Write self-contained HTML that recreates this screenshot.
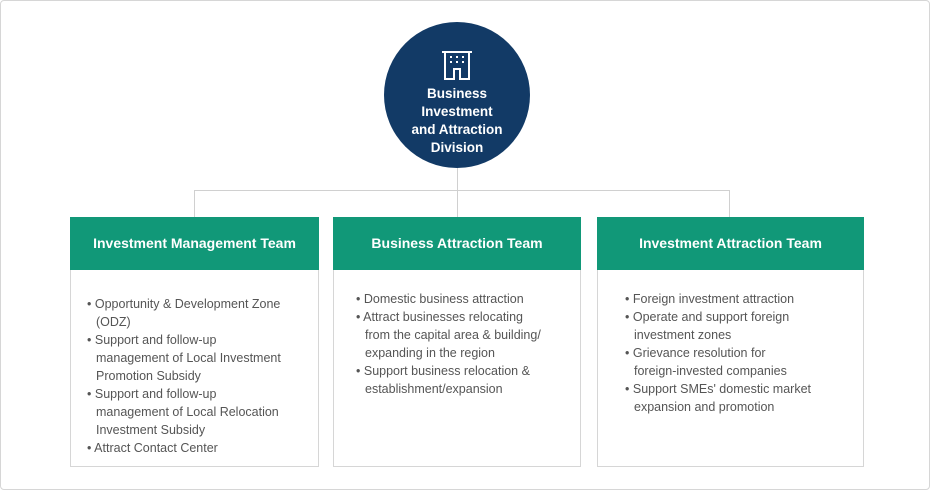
<!DOCTYPE html>
<html><head><style>
body{margin:0;width:930px;height:490px;background:#fff;font-family:"Liberation Sans",sans-serif;position:relative;overflow:hidden}
.frame{position:absolute;left:0;top:0;width:928px;height:488px;border:1px solid #d6d6d6;border-radius:4px}
.l{position:absolute;background:#d0d0d0}
.circle{position:absolute;left:384px;top:22px;width:146px;height:146px;border-radius:50%;background:#123a66;color:#fff;text-align:center}
.circle .t{position:absolute;left:0;right:0;top:63px;font-weight:bold;font-size:13.5px;line-height:18px}
.box{position:absolute;top:217px;height:250px;border:1px solid #d6d6d6;border-top:none;box-sizing:border-box}
.hd{background:#119878;color:#fff;font-weight:bold;font-size:14px;height:53px;line-height:53px;text-align:center;margin:0 -1px}
ul{list-style:none;margin:0;padding:0;position:absolute;font-size:12.5px;line-height:18px;color:#555}
li{padding-left:9px;text-indent:-9px}
li:before{content:"• "}
li span{display:block;text-indent:0}
</style></head><body>
<div class="frame"></div>
<div class="l" style="left:457px;top:160px;width:1px;height:57px"></div>
<div class="l" style="left:194px;top:190px;width:536px;height:1px"></div>
<div class="l" style="left:194px;top:190px;width:1px;height:27px"></div>
<div class="l" style="left:729px;top:190px;width:1px;height:27px"></div>
<div class="circle">
<svg style="position:absolute;left:57px;top:28px" width="32" height="30" viewBox="0 0 32 30" fill="none" stroke="#fff" stroke-width="2"><path d="M1 2H31M4 2V29H13V19H19V29H28V2"/><g fill="#fff" stroke="none"><rect x="9" y="6" width="2" height="2"/><rect x="15" y="6" width="2" height="2"/><rect x="21" y="6" width="2" height="2"/><rect x="9" y="11" width="2" height="2"/><rect x="15" y="11" width="2" height="2"/><rect x="21" y="11" width="2" height="2"/></g></svg>
<div class="t">Business<br>Investment<br>and Attraction<br>Division</div></div>
<div class="box" style="left:70px;width:249px"><div class="hd">Investment Management Team</div>
<ul style="left:16px;top:78px;width:230px">
<li>Opportunity &amp; Development Zone<span>(ODZ)</span></li>
<li>Support and follow-up<span>management of Local Investment</span><span>Promotion Subsidy</span></li>
<li>Support and follow-up<span>management of Local Relocation</span><span>Investment Subsidy</span></li>
<li>Attract Contact Center</li></ul></div>
<div class="box" style="left:333px;width:248px"><div class="hd">Business Attraction Team</div>
<ul style="left:22px;top:73px;width:225px">
<li>Domestic business attraction</li>
<li>Attract businesses relocating<span>from the capital area &amp; building/</span><span>expanding in the region</span></li>
<li>Support business relocation &amp;<span>establishment/expansion</span></li></ul></div>
<div class="box" style="left:597px;width:267px"><div class="hd">Investment Attraction Team</div>
<ul style="left:27px;top:73px;width:240px">
<li>Foreign investment attraction</li>
<li>Operate and support foreign<span>investment zones</span></li>
<li>Grievance resolution for<span>foreign-invested companies</span></li>
<li>Support SMEs' domestic market<span>expansion and promotion</span></li></ul></div>
</body></html>
